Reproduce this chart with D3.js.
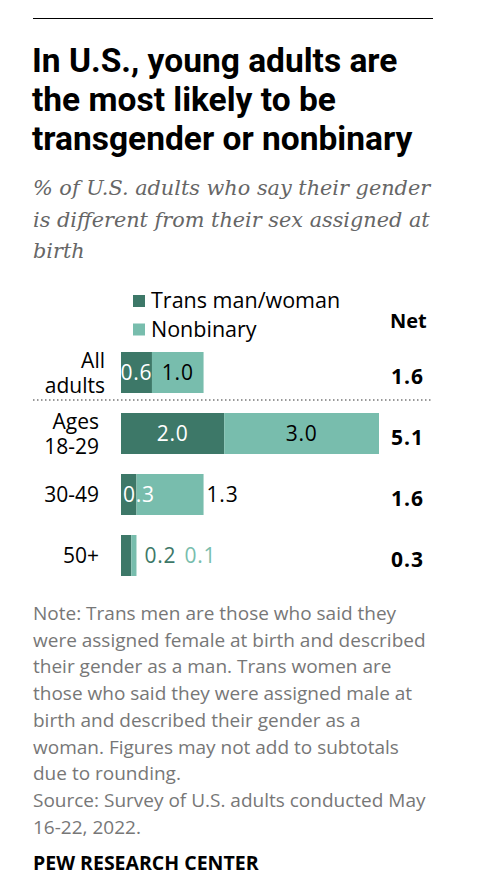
<!DOCTYPE html>
<html>
<head>
<meta charset="utf-8">
<script src="https://cdn.jsdelivr.net/npm/d3@7"></script>
<style>
  html, body { margin: 0; padding: 0; background: #fff; }
  svg { display: block; }
  .sans { font-family: "Open Sans", Roboto, sans-serif; }
</style>
</head>
<body>
<div id="chart"></div>
<script>
// Chart data
const categories = [['All', 'adults'], ['Ages', '18-29'], ['30-49'], ['50+']];
const transValues = [0.6, 2.0, 0.3, 0.2];
const nonbinaryValues = [1.0, 3.0, 1.3, 0.1];
const netValues = [1.6, 5.1, 1.6, 0.3];
const seriesNames = ['Trans man/woman', 'Nonbinary'];

const titleLines = ['In U.S., young adults are', 'the most likely to be', 'transgender or nonbinary'];
const subtitleLines = ['% of U.S. adults who say their gender', 'is different from their sex assigned at', 'birth'];
const noteLines = [
  'Note: Trans men are those who said they',
  'were assigned female at birth and described',
  'their gender as a man. Trans women are',
  'those who said they were assigned male at',
  'birth and described their gender as a',
  'woman. Figures may not add to subtotals',
  'due to rounding.',
  'Source: Survey of U.S. adults conducted May',
  '16-22, 2022.'
];

const W = 493, H = 888;
const dark = '#3d7868', light = '#78bdad';

const svg = d3.select('#chart').append('svg')
  .attr('width', W)
  .attr('height', H)
  .attr('class', 'sans');

// Top rule
svg.append('line')
  .attr('x1', 33).attr('x2', 433)
  .attr('y1', 18.5).attr('y2', 18.5)
  .attr('stroke', '#000').attr('stroke-width', 1);

// Title
svg.append('g').selectAll('text')
  .data(titleLines)
  .join('text')
  .attr('x', 32)
  .attr('y', (d, i) => 72 + i * 39)
  .attr('font-family', 'Roboto, sans-serif')
  .attr('font-size', 33.5)
  .attr('font-weight', 700)
  .attr('fill', '#000')
  .text(d => d);

// Subtitle
svg.append('g').selectAll('text')
  .data(subtitleLines)
  .join('text')
  .attr('x', 33)
  .attr('y', (d, i) => 195 + i * 31.5)
  .attr('font-family', '"DejaVu Serif", serif')
  .attr('font-style', 'italic')
  .attr('font-size', 20.8)
  .attr('fill', '#666')
  .text(d => d);

// Legend
const legend = svg.append('g').selectAll('g')
  .data(seriesNames)
  .join('g')
  .attr('transform', (d, i) => `translate(133,${295 + i * 28.5})`);

legend.append('rect')
  .attr('width', 12).attr('height', 12)
  .attr('fill', (d, i) => i === 0 ? dark : light);

legend.append('text')
  .attr('x', 18).attr('y', 13)
  .attr('font-size', 21.5)
  .attr('fill', '#000')
  .text(d => d);

svg.append('text')
  .attr('x', 390).attr('y', 328)
  .attr('font-size', 20)
  .attr('font-weight', 700)
  .text('Net');

// Scales
const x = d3.scaleLinear().domain([0, 5]).range([121, 379]);
const y = d3.scaleBand()
  .domain(d3.range(categories.length))
  .range([342, 586])
  .paddingInner(20 / 61)
  .paddingOuter(10 / 61);

const rows = categories.map((c, i) => ({
  i, label: c, trans: transValues[i], non: nonbinaryValues[i], net: netValues[i]
}));

const row = svg.append('g').selectAll('g')
  .data(rows)
  .join('g')
  .attr('transform', d => `translate(0,${y(d.i)})`);

const bh = y.bandwidth();

row.append('rect')
  .attr('x', x(0))
  .attr('width', d => x(d.trans) - x(0))
  .attr('height', bh)
  .attr('fill', dark);

row.append('rect')
  .attr('x', d => x(d.trans))
  .attr('width', d => x(d.trans + d.non) - x(d.trans))
  .attr('height', bh)
  .attr('fill', light);

// Category labels
row.append('text')
  .attr('text-anchor', 'end')
  .attr('font-size', 21)
  .attr('fill', '#000')
  .selectAll('tspan')
  .data(d => d.label.map(t => ({ t, n: d.label.length, i: d.i })))
  .join('tspan')
  .attr('x', d => d.i === 0 ? 105 : 99)
  .attr('y', (d, k) => d.n === 1 ? bh / 2 + 7 : bh / 2 - 5 + k * 25.5)
  .text(d => d.t);

// Value labels inside / beside bars
const fmt = d3.format('.1f');
const valueLabels = [];
rows.forEach(d => {
  const wT = x(d.trans) - x(0);
  const wN = x(d.trans + d.non) - x(d.trans);
  if (wT >= 25) {
    valueLabels.push({ row: d.i, x: (x(0) + x(d.trans)) / 2, anchor: 'middle', fill: '#fff', v: d.trans });
  } else if (wT >= 12) {
    valueLabels.push({ row: d.i, x: x(0) + 2, anchor: 'start', fill: '#fff', v: d.trans });
  } else {
    valueLabels.push({ row: d.i, x: x(d.trans + d.non) + 8, anchor: 'start', fill: dark, v: d.trans });
  }
  if (wN >= 25 && wT >= 25) {
    valueLabels.push({ row: d.i, x: (x(d.trans) + x(d.trans + d.non)) / 2, anchor: 'middle', fill: '#000', v: d.non });
  } else if (wN >= 25) {
    valueLabels.push({ row: d.i, x: x(d.trans + d.non) + 3, anchor: 'start', fill: '#000', v: d.non });
  } else {
    valueLabels.push({ row: d.i, x: x(d.trans + d.non) + 48, anchor: 'start', fill: light, v: d.non });
  }
});

svg.append('g').selectAll('text')
  .data(valueLabels)
  .join('text')
  .attr('x', d => d.x)
  .attr('y', d => y(d.row) + bh / 2 + 7.5)
  .attr('text-anchor', d => d.anchor)
  .attr('font-size', 21)
  .attr('letter-spacing', 0.8)
  .attr('fill', d => d.fill)
  .text(d => fmt(d.v));

// Net column
row.append('text')
  .attr('x', 391)
  .attr('y', bh / 2 + 11.5)
  .attr('font-size', 21)
  .attr('font-weight', 700)
  .attr('letter-spacing', 1)
  .attr('fill', '#000')
  .text(d => fmt(d.net));

// Dotted separator after "All adults"
svg.append('line')
  .attr('x1', 33).attr('x2', 433)
  .attr('y1', 400).attr('y2', 400)
  .attr('stroke', '#999')
  .attr('stroke-width', 2)
  .attr('stroke-dasharray', '1.5,2.5');

// Notes
svg.append('g').selectAll('text')
  .data(noteLines)
  .join('text')
  .attr('x', 33)
  .attr('y', (d, i) => 620 + i * 26.7)
  .attr('font-size', 19)
  .attr('fill', '#777')
  .text(d => d);

svg.append('text')
  .attr('x', 33).attr('y', 870)
  .attr('font-size', 19.5)
  .attr('font-weight', 700)
  .attr('fill', '#000')
  .text('PEW RESEARCH CENTER');
</script>
</body>
</html>
